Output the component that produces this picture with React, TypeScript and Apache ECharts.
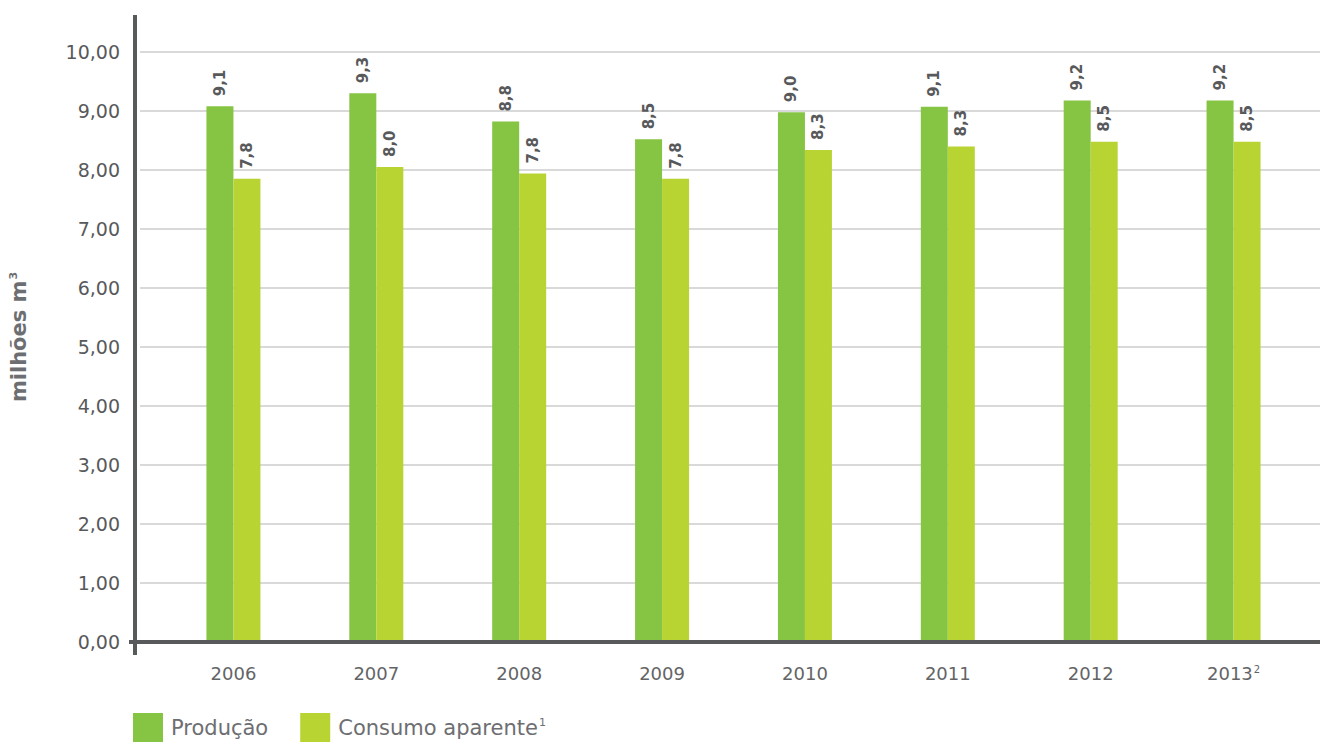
import React, { useEffect, useRef } from "react";
import * as echarts from "echarts";

const years = ["2006", "2007", "2008", "2009", "2010", "2011", "2012", "2013"];
const yearSup = ["", "", "", "", "", "", "", "2"];
const producao = [9.08, 9.3, 8.82, 8.52, 8.98, 9.07, 9.18, 9.18];
const consumo = [7.85, 8.05, 7.94, 7.85, 8.34, 8.4, 8.48, 8.48];
const producaoLabels = ["9,1", "9,3", "8,8", "8,5", "9,0", "9,1", "9,2", "9,2"];
const consumoLabels = ["7,8", "8,0", "7,8", "7,8", "8,3", "8,3", "8,5", "8,5"];

const FONT = "'DejaVu Sans', sans-serif";
const DARK = "#58595b";
const GRAY = "#6d6e71";
const GREEN1 = "#86c443";
const GREEN2 = "#b8d433";

export default function App() {
  const ref = useRef<HTMLDivElement>(null);
  useEffect(() => {
    document.body.style.margin = "0";
    if (!ref.current) return;
    const chart = echarts.init(ref.current, null, { renderer: "svg" });
    const labelCommon = {
      show: true,
      position: "top" as const,
      rotate: 90,
      align: "left" as const,
      verticalAlign: "middle" as const,
      distance: 10,
      fontFamily: FONT,
      fontWeight: 700,
      fontSize: 15,
      color: DARK,
    };
    chart.setOption({
      animation: false,
      textStyle: { fontFamily: FONT },
      grid: [
        { left: 135, right: 0, top: 52, bottom: 100 },
        { left: 162, right: 15, top: 52, bottom: 100 },
      ],
      xAxis: [
        { gridIndex: 0, type: "value", show: false, min: 0, max: 1 },
        {
          gridIndex: 1,
          type: "category",
          data: years,
          axisLine: { show: false },
          axisTick: { show: false },
          axisLabel: {
            interval: 0,
            margin: 22,
            fontSize: 18,
            color: "#636466",
            fontFamily: FONT,
            formatter: (v: string, i: number) =>
              yearSup[i] ? `{a|${v}}{s|${yearSup[i]}}` : `{a|${v}}`,
            rich: {
              a: { fontSize: 18, color: "#636466", fontFamily: FONT },
              s: { fontSize: 10, color: "#636466", fontFamily: FONT, padding: [0, 0, 9, 1] },
            },
          },
        },
      ],
      yAxis: [
        {
          gridIndex: 0,
          type: "value",
          min: 0,
          max: 10,
          interval: 1,
          axisLine: { show: false },
          axisTick: { show: false },
          splitLine: { lineStyle: { color: "#d9d9d9", width: 2 } },
          axisLabel: {
            margin: 20,
            fontSize: 19,
            color: DARK,
            fontFamily: FONT,
            formatter: (v: number) => v.toFixed(2).replace(".", ","),
          },
          name: "{a|milhões m}{s|3}",
          nameLocation: "middle",
          nameGap: 110,
          nameRotate: 90,
          nameTextStyle: {
            padding: [0, 0, 0, 20],
            rich: {
              a: { fontSize: 21, fontWeight: 700, color: GRAY, fontFamily: FONT },
              s: { fontSize: 11, fontWeight: 700, color: GRAY, fontFamily: FONT, padding: [0, 0, 11, 1] },
            },
          },
        },
        { gridIndex: 1, type: "value", min: 0, max: 10, interval: 1, show: false, splitLine: { show: false } },
      ],
      legend: {
        left: 133,
        top: 713,
        padding: 0,
        itemWidth: 30,
        itemHeight: 29,
        itemGap: 32,
        icon: "rect",
        textStyle: {
          fontSize: 21,
          color: GRAY,
          fontFamily: FONT,
          padding: [0, 0, 0, 3],
          rich: {
            a: { fontSize: 21, color: GRAY, fontFamily: FONT },
            s: { fontSize: 11, color: GRAY, fontFamily: FONT, padding: [0, 0, 11, 1] },
          },
        },
        formatter: (name: string) =>
          name === "Consumo aparente" ? "{a|Consumo aparente}{s|1}" : `{a|${name}}`,
        data: ["Produção", "Consumo aparente"],
      },
      graphic: [
        { type: "line", shape: { x1: 135, y1: 15, x2: 135, y2: 655 }, style: { stroke: DARK, lineWidth: 4 }, z: 100 },
        { type: "line", shape: { x1: 129, y1: 642, x2: 1320, y2: 642 }, style: { stroke: DARK, lineWidth: 4 }, z: 100 },
      ],
      series: [
        {
          name: "Produção",
          type: "bar",
          xAxisIndex: 1,
          yAxisIndex: 1,
          data: producao,
          barWidth: 27,
          barGap: "0%",
          itemStyle: { color: GREEN1 },
          label: { ...labelCommon, formatter: (p: any) => producaoLabels[p.dataIndex] },
        },
        {
          name: "Consumo aparente",
          type: "bar",
          xAxisIndex: 1,
          yAxisIndex: 1,
          data: consumo,
          barWidth: 27,
          barGap: "0%",
          itemStyle: { color: GREEN2 },
          label: { ...labelCommon, formatter: (p: any) => consumoLabels[p.dataIndex] },
        },
      ],
    });
    return () => chart.dispose();
  }, []);
  return <div ref={ref} style={{ width: 1320, height: 742 }} />;
}
